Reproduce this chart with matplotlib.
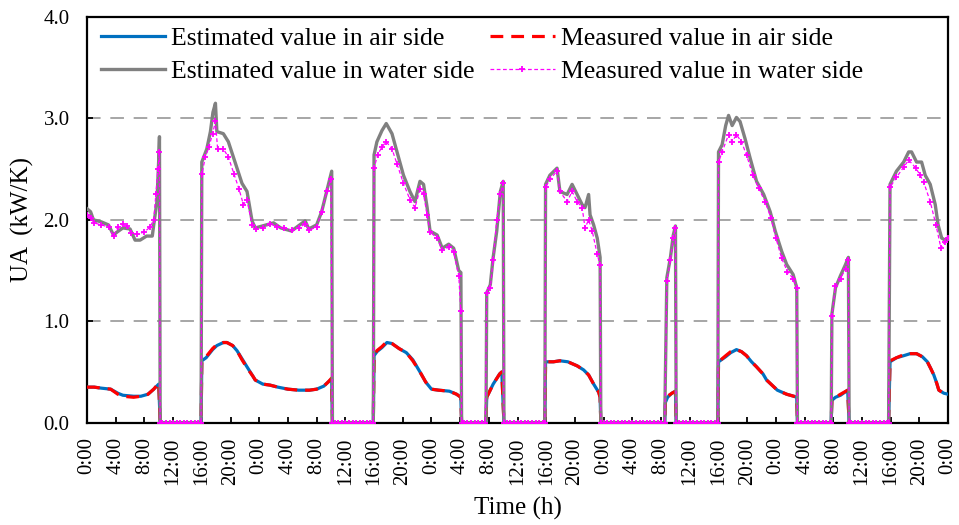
import numpy as np
import matplotlib
matplotlib.use('Agg')
import matplotlib.pyplot as plt
from matplotlib.lines import Line2D

plt.rcParams['font.family'] = ['Liberation Serif', 'DejaVu Serif']

# time in hours from the start (5 days), values UA in kW/K
# estimated value in water side (grey)
t_wat_est = [0.0, 0.5, 0.9, 2.0, 3.0, 3.7, 4.2, 5.0, 6.0, 6.7, 7.4, 8.3, 9.1, 9.3, 9.75, 10.0, 10.1, 10.2,
             15.9, 16.0, 16.7, 17.2, 17.55, 17.9, 18.1, 19.0, 19.7, 20.9, 21.6, 22.3, 23.0, 23.45, 26.0, 27.0,
             28.5, 30.4, 30.9, 32.0, 32.7, 33.4, 34.1, 34.2,
             39.9, 40.0, 40.4, 41.1, 41.7, 42.5, 43.2, 44.1, 45.0, 45.7, 46.4, 46.9, 47.4, 47.8, 48.8, 49.5,
             50.4, 51.1, 51.8, 52.1, 52.2,
             55.6, 55.7, 56.2, 56.6, 57.1, 57.6, 58.0, 58.1,
             63.8, 63.9, 64.5, 65.5, 65.9, 66.9, 67.6, 68.3, 69.0, 69.4, 69.9, 70.1, 70.6, 71.1, 71.5, 71.6,
             80.5, 80.8, 81.3, 81.7, 82.0, 82.1,
             87.9, 88.0, 88.5, 89.0, 89.4, 89.9, 90.5, 91.0, 91.7, 92.4, 93.3, 94.3, 95.2, 95.9, 96.8, 97.5,
             98.4, 98.9, 99.0,
             103.7, 103.8, 104.3, 105.0, 105.7, 106.1, 106.2,
             111.7, 111.9, 112.8, 113.8, 114.5, 114.9, 115.6, 116.3, 116.8, 117.5, 118.2, 118.6, 119.1,
             119.6, 120.0]
ua_wat_est = [2.11, 2.08, 2.00, 1.98, 1.95, 1.85, 1.88, 1.92, 1.91, 1.80, 1.80, 1.84, 1.84, 1.95, 2.18, 2.60, 2.82, 0.0,
              0.0, 2.57, 2.70, 2.87, 3.06, 3.15, 2.87, 2.85, 2.77, 2.51, 2.36, 2.28, 1.99, 1.92, 1.97, 1.92,
              1.89, 1.99, 1.91, 1.95, 2.08, 2.28, 2.48, 0.0,
              0.0, 2.64, 2.77, 2.88, 2.95, 2.85, 2.67, 2.44, 2.28, 2.18, 2.38, 2.35, 2.12, 1.89, 1.85, 1.72,
              1.76, 1.72, 1.50, 1.48, 0.0,
              0.0, 1.28, 1.36, 1.63, 1.89, 2.28, 2.38, 0.0,
              0.0, 2.35, 2.44, 2.51, 2.28, 2.25, 2.35, 2.25, 2.15, 2.12, 2.25, 2.05, 1.95, 1.82, 1.63, 0.0,
              0.0, 1.43, 1.63, 1.85, 1.94, 0.0,
              0.0, 2.67, 2.74, 2.93, 3.03, 2.93, 3.01, 2.97, 2.80, 2.61, 2.38, 2.25, 2.08, 1.89, 1.69, 1.56,
              1.46, 1.33, 0.0,
              0.0, 1.07, 1.33, 1.45, 1.56, 1.63, 0.0,
              0.0, 2.35, 2.48, 2.57, 2.67, 2.67, 2.57, 2.57, 2.44, 2.35, 2.15, 1.95, 1.82,
              1.80, 1.82]

# measured value in water side (magenta)
t_wat_meas = [0.0, 0.5, 1.0, 2.0, 3.0, 3.7, 4.3, 5.0, 5.6, 6.2, 7.0, 8.0, 8.8, 9.3, 9.6, 9.9, 10.1, 10.2,
              10.5, 11.0, 11.5, 12.0, 12.5, 13.0, 13.5, 14.0, 14.5, 15.0, 15.5, 15.9,
              16.0, 16.5, 17.0, 17.5, 17.9, 18.2, 19.0, 19.7, 20.5, 21.2, 21.8, 22.3, 23.0, 23.5, 24.5, 25.5,
              26.5, 27.5, 28.5, 29.5, 30.4, 31.0, 32.0, 32.7, 33.4, 34.0, 34.2,
              34.5, 35.0, 35.5, 36.0, 36.5, 37.0, 37.5, 38.0, 38.5, 39.0, 39.5, 39.9,
              40.0, 40.5, 41.1, 41.7, 42.5, 43.2, 44.1, 45.0, 45.7, 46.4, 46.9, 47.4, 47.8, 48.8, 49.5, 50.4,
              51.1, 51.8, 52.1, 52.2,
              52.5, 53.0, 53.5, 54.0, 54.5, 55.0, 55.5,
              55.7, 56.2, 56.6, 57.1, 57.6, 58.0, 58.1,
              58.5, 59.0, 59.5, 60.0, 60.5, 61.0, 61.5, 62.0, 62.5, 63.0, 63.5, 63.8,
              63.9, 64.5, 65.5, 65.9, 66.9, 67.6, 68.3, 69.0, 69.4, 69.9, 70.4, 71.1, 71.5, 71.6,
              72.0, 72.5, 73.0, 73.5, 74.0, 74.5, 75.0, 75.5, 76.0, 76.5, 77.0, 77.5, 78.0, 78.5, 79.0,
              79.5, 80.0, 80.5,
              80.8, 81.3, 81.7, 82.0, 82.1,
              82.5, 83.0, 83.5, 84.0, 84.5, 85.0, 85.5, 86.0, 86.5, 87.0, 87.5, 87.9,
              88.0, 88.5, 89.4, 89.9, 90.5, 91.2, 91.9, 92.8, 93.6, 94.5, 95.3, 96.0, 96.8, 97.6, 98.4,
              98.9, 99.0,
              99.5, 100.0, 100.5, 101.0, 101.5, 102.0, 102.5, 103.0, 103.5, 103.7,
              103.8, 104.3, 105.0, 105.7, 106.1, 106.2,
              106.5, 107.0, 107.5, 108.0, 108.5, 109.0, 109.5, 110.0, 110.5, 111.0, 111.5, 111.7,
              111.9, 112.8, 113.8, 114.5, 115.5, 116.1, 116.6, 117.5, 118.3, 119.0, 119.5, 120.0]
ua_wat_meas = [2.05, 2.02, 1.97, 1.95, 1.93, 1.84, 1.93, 1.96, 1.94, 1.87, 1.86, 1.88, 1.93, 2.00, 2.25, 2.50, 2.67, 0.0,
               0, 0, 0, 0, 0, 0, 0, 0, 0, 0, 0, 0,
               2.45, 2.62, 2.72, 2.85, 2.97, 2.70, 2.70, 2.62, 2.45, 2.30, 2.15, 2.20, 1.95, 1.91, 1.92, 1.96,
               1.93, 1.92, 1.90, 1.92, 1.96, 1.90, 1.93, 2.08, 2.28, 2.40, 0.0,
               0, 0, 0, 0, 0, 0, 0, 0, 0, 0, 0, 0,
               2.51, 2.64, 2.72, 2.77, 2.70, 2.55, 2.36, 2.20, 2.12, 2.30, 2.25, 2.05, 1.88, 1.82, 1.70, 1.73,
               1.68, 1.45, 1.10, 0.0,
               0, 0, 0, 0, 0, 0, 0,
               1.28, 1.33, 1.60, 2.00, 2.25, 2.36, 0.0,
               0, 0, 0, 0, 0, 0, 0, 0, 0, 0, 0, 0,
               2.32, 2.40, 2.48, 2.28, 2.18, 2.28, 2.18, 2.12, 1.92, 2.00, 1.89, 1.66, 1.55, 0.0,
               0, 0, 0, 0, 0, 0, 0, 0, 0, 0, 0, 0, 0, 0, 0,
               0, 0, 0,
               1.40, 1.60, 1.82, 1.92, 0.0,
               0, 0, 0, 0, 0, 0, 0, 0, 0, 0, 0, 0,
               2.57, 2.67, 2.84, 2.77, 2.84, 2.77, 2.64, 2.44, 2.31, 2.18, 2.02, 1.82, 1.62, 1.49, 1.42,
               1.33, 0.0,
               0, 0, 0, 0, 0, 0, 0, 0, 0, 0,
               1.05, 1.35, 1.42, 1.52, 1.60, 0.0,
               0, 0, 0, 0, 0, 0, 0, 0, 0, 0, 0, 0,
               2.32, 2.42, 2.52, 2.59, 2.51, 2.44, 2.37, 2.18, 1.95, 1.72, 1.78, 1.82]

# air side (estimated = blue, measured = red)
t_air = [0.0, 1.0, 2.0, 3.3, 4.3, 5.0, 6.5, 7.5, 8.5, 9.3, 10.0, 10.2,
         15.9, 16.0, 16.6, 17.5, 18.1, 19.0, 19.5, 20.3, 20.9, 21.6, 22.3, 23.1, 23.45, 24.5, 25.5, 26.6,
         28.0, 29.5, 31.0, 32.0, 33.0, 33.6, 34.1, 34.2,
         39.9, 40.0, 40.4, 41.1, 41.8, 42.5, 43.5, 44.5, 45.4, 46.4, 47.2, 48.0, 49.0, 50.5, 51.5, 52.1, 52.2,
         55.6, 55.7, 56.6, 57.5, 57.8, 58.1,
         63.8, 63.9, 65.0, 65.9, 67.0, 68.3, 69.2, 69.9, 70.6, 71.3, 71.5, 71.6,
         80.5, 80.6, 80.9, 81.5, 82.0, 82.1,
         87.9, 88.0, 89.0, 89.7, 90.5, 91.2, 91.9, 92.6, 93.3, 94.2, 94.7, 95.6, 96.2, 97.5, 98.5, 98.9, 99.0,
         103.7, 103.8, 104.3, 105.0, 106.0, 106.2,
         111.7, 111.9, 112.8, 113.8, 114.7, 115.6, 116.4, 117.1, 117.6, 118.0, 118.4, 118.7, 119.4, 120.0]
ua_air_est = [0.35, 0.35, 0.34, 0.33, 0.29, 0.27, 0.26, 0.26, 0.28, 0.33, 0.38, 0.0,
              0.0, 0.61, 0.64, 0.72, 0.76, 0.79, 0.79, 0.76, 0.71, 0.63, 0.55, 0.46, 0.42, 0.38, 0.37, 0.35,
              0.33, 0.32, 0.32, 0.33, 0.36, 0.40, 0.43, 0.0,
              0.0, 0.66, 0.70, 0.74, 0.79, 0.78, 0.73, 0.69, 0.62, 0.50, 0.40, 0.33, 0.32, 0.31, 0.28, 0.25, 0.0,
              0.0, 0.25, 0.38, 0.48, 0.50, 0.0,
              0.0, 0.60, 0.60, 0.61, 0.60, 0.56, 0.52, 0.47, 0.38, 0.30, 0.25, 0.0,
              0.0, 0.20, 0.25, 0.29, 0.31, 0.0,
              0.0, 0.60, 0.65, 0.69, 0.72, 0.70, 0.66, 0.60, 0.55, 0.48, 0.42, 0.36, 0.32, 0.28, 0.26, 0.25, 0.0,
              0.0, 0.22, 0.25, 0.27, 0.32, 0.0,
              0.0, 0.60, 0.64, 0.66, 0.68, 0.68, 0.65, 0.60, 0.53, 0.47, 0.39, 0.32, 0.29, 0.28]
ua_air_meas = [0.35, 0.35, 0.34, 0.33, 0.28, 0.26, 0.25, 0.26, 0.28, 0.33, 0.39, 0.0,
               0.0, 0.60, 0.65, 0.73, 0.77, 0.79, 0.79, 0.76, 0.71, 0.62, 0.54, 0.46, 0.42, 0.38, 0.37, 0.35,
               0.33, 0.32, 0.32, 0.33, 0.36, 0.40, 0.44, 0.0,
               0.0, 0.66, 0.71, 0.75, 0.80, 0.78, 0.73, 0.69, 0.61, 0.50, 0.40, 0.33, 0.32, 0.31, 0.28, 0.25, 0.0,
               0.0, 0.25, 0.38, 0.48, 0.50, 0.0,
               0.0, 0.60, 0.60, 0.61, 0.60, 0.56, 0.52, 0.47, 0.38, 0.30, 0.25, 0.0,
               0.0, 0.20, 0.26, 0.29, 0.31, 0.0,
               0.0, 0.60, 0.66, 0.70, 0.72, 0.70, 0.66, 0.60, 0.55, 0.48, 0.42, 0.36, 0.32, 0.28, 0.26, 0.25, 0.0,
               0.0, 0.22, 0.25, 0.28, 0.32, 0.0,
               0.0, 0.61, 0.64, 0.67, 0.68, 0.68, 0.65, 0.60, 0.53, 0.47, 0.39, 0.32, 0.29, 0.28]

tick_hours = list(range(0, 121, 4))
tick_labels = ['%d:00' % (h % 24) for h in tick_hours]

fig = plt.figure(figsize=(9.59, 5.25), dpi=100)
ax = fig.add_axes([0.0907, 0.195, 0.898, 0.7725])

l_air_est, = ax.plot(t_air, ua_air_est, color='#0070C0', lw=2.3, zorder=3)
l_air_meas, = ax.plot(t_air, ua_air_meas, color='#FF0000', lw=2.3, dashes=(4, 2.5), zorder=4)
l_wat_est, = ax.plot(t_wat_est, ua_wat_est, color='#808080', lw=2.4, zorder=5)
l_wat_meas, = ax.plot(t_wat_meas, ua_wat_meas, color='#FF00FF', lw=0.9, ls=(0, (3, 2)),
                      marker='+', ms=4.5, mew=1.3, zorder=6)

ax.set_xlim(0, 120)
ax.set_ylim(0, 4.0)
ax.set_xticks(tick_hours)
ax.set_xticklabels(tick_labels, rotation=90, fontsize=15)
ax.set_yticks([0, 1, 2, 3, 4])
ax.set_yticklabels(['0.0', '1.0', '2.0', '3.0', '4.0'], fontsize=15)
ax.tick_params(direction='in', length=4, width=1.3)
ax.tick_params(axis='x', pad=10.5)
ax.tick_params(axis='y', pad=12.5)
for sp in ax.spines.values():
    sp.set_linewidth(1.6)

for yv in [1, 2, 3]:
    ax.axhline(yv, color='#A6A6A6', lw=1.4, dashes=(7, 5), zorder=1)

ax.set_xlabel('Time (h)', fontsize=18, labelpad=9)
ax.set_ylabel('UA  (kW/K)', fontsize=18, labelpad=7)

ax.legend([l_air_est, l_wat_est, l_air_meas, l_wat_meas],
          ['Estimated value in air side', 'Estimated value in water side',
           'Measured value in air side', 'Measured value in water side'],
          ncol=2, loc='upper left', bbox_to_anchor=(0.004, 1.0), frameon=False, fontsize=18.5,
          handlelength=2.5, handletextpad=0.25, columnspacing=0.6, labelspacing=0.37,
          borderaxespad=0.0)

fig.savefig('out.png', dpi=100)
